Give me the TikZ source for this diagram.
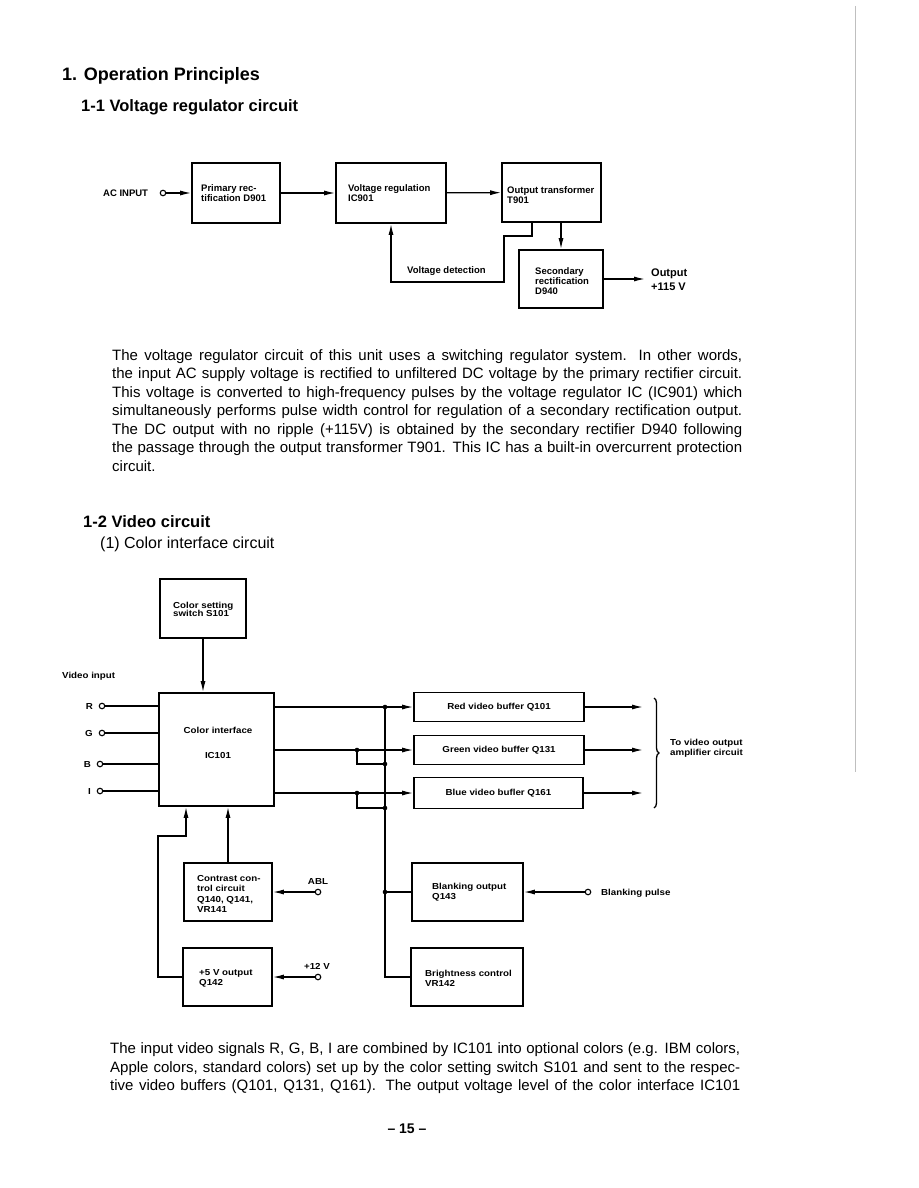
\documentclass[tikz,border=0pt]{standalone}
\usepackage{fontspec}
\setmainfont{Liberation Sans}
\newfontfamily\wideface[FakeStretch=1.12]{Liberation Sans}
\usetikzlibrary{arrows.meta,decorations.pathreplacing}

\newcommand{\fullline}[1]{\makebox[630pt][s]{#1}}

\begin{document}
\begin{tikzpicture}[x=1pt,y=-1pt]
        \tikzset{
            head/.style={font=\fontsize{16.5}{20}\selectfont\bfseries, anchor=base west, inner sep=0pt},
            body/.style={font=\fontsize{15}{18.5}\selectfont, align=left, anchor=north west, inner sep=0pt},
            tdg/.style={font=\fontsize{9.5}{10.3}\selectfont\bfseries},
            vdg/.style={font=\wideface\bfseries\fontsize{8.7}{10.2}\selectfont},
            blk/.style={draw, line width=1.6pt, inner sep=0pt},
            txt/.style={align=left, anchor=west, inner sep=0pt},
            term/.style={circle, draw, fill=white, line width=1.1pt, inner sep=0pt, minimum size=5.5pt},
            conn/.style={line width=1.3pt},
            arr/.style={conn, -{Latex[length=11pt,width=5pt]}}
        }
        \useasboundingbox (0,0) rectangle (918,1188);
        \draw [gray!50, line width=0.6pt] (855,6) -- (855,772);

        \node[head, font=\fontsize{18}{21}\selectfont\bfseries] (title) at (62,81) {1. Operation Principles};
        \node[head] (regtitle) at (81,111.5) {1-1 Voltage regulator circuit};

        %voltage regulator
        \node[tdg, txt] (acl) at (103,193) {AC INPUT};
        \node[term] (acin) at (163,193) {};
        \node[blk, minimum width=88, minimum height=60] (prim) at (236,193) {};
            \node[tdg, txt] (primt) at (201,193) {Primary rec-\\tification D901};
        \node[blk, minimum width=110, minimum height=60] (vreg) at (391,193) {};
            \node[tdg, txt] (vregt) at (348,193) {Voltage regulation\\IC901};
        \node[blk, minimum width=99, minimum height=59] (otr) at (551.5,192.5) {};
            \node[tdg, txt] (otrt) at (507,195) {Output transformer\\T901};
        \node[blk, minimum width=84, minimum height=58] (sec) at (561,279) {};
            \node[tdg, txt] (sect) at (535,281) {Secondary\\rectification\\D940};
        \coordinate (outp) at (645,279);
            \node[txt, font=\fontsize{11}{14.5}\selectfont\bfseries] (outl) at (651,279.5) {Output\\+115 V};

        \draw[arr] (acin) -- (prim);
        \draw[arr] (prim) -- (vreg);
        \draw[arr] (vreg) -- (otr);
        \draw[arr] (otr.south -| sec.north) -- (sec.north);
        \draw[arr] (sec.east) -- (outp);

        \coordinate (vd1) at (532,236);
        \coordinate (vd2) at (504,282);
        \coordinate (vd3) at (391,282);
        \draw[arr] (otr.south -| vd1) -- (vd1) -| (vd2) -- (vd3) -- (vreg.south);
            \node[tdg, txt] (vdl) at (407,271) {Voltage detection};

        \node[body] (regtext) at (112,349) {\fullline{The voltage regulator circuit of this unit uses a switching regulator system. In other words,}\\
            \fullline{the input AC supply voltage is rectified to unfiltered DC voltage by the primary rectifier circuit.}\\
            \fullline{This voltage is converted to high-frequency pulses by the voltage regulator IC (IC901) which}\\
            \fullline{simultaneously performs pulse width control for regulation of a secondary rectification output.}\\
            \fullline{The DC output with no ripple (+115V) is obtained by the secondary rectifier D940 following}\\
            \fullline{the passage through the output transformer T901. This IC has a built-in overcurrent protection}\\
            circuit.};

        \node[head] (vidtitle) at (83,527) {1-2 Video circuit};
        \node[head, font=\fontsize{16}{19}\selectfont] (coltitle) at (100,548) {(1) Color interface circuit};

        %color interface
        \node[blk, minimum width=86, minimum height=59] (csw) at (203,608.5) {};
            \node[vdg, txt] (cswt) at (173,609) {Color setting\\[-2pt]switch S101};
        \node[blk, minimum width=115, minimum height=113] (ic) at (216.5,749.5) {};
            \node[vdg, align=center, inner sep=0pt] (ict) at (218,743) {Color interface\\[15.5pt]IC101};
        \draw[arr] (csw) -- (csw |- ic.north);

        \node[vdg, txt] (vin) at (62,676) {Video input};
        \foreach \n/\y/\cx in {R/706/102, G/733/102, B/764/100, I/791/100}{
            \node[term] (in\n) at (\cx,\y) {};
            \node[vdg, inner sep=0pt, anchor=east] (lab\n) at (\cx-9,\y) {\n};
            \draw[conn] (in\n) -- (in\n -| ic.west);
        }

        \node[blk, vdg, minimum width=170, minimum height=29] (rbuf) at (499,707) {Red video buffer Q101};
        \node[blk, vdg, minimum width=170, minimum height=29] (gbuf) at (499,750) {Green video buffer Q131};
        \node[blk, vdg, minimum width=169, minimum height=31] (bbuf) at (498.5,793) {Blue video bufler Q161};
        \coordinate (tipx) at (643,0);
        \foreach \b in {rbuf, gbuf, bbuf}{
            \draw[arr] (ic.east |- \b.west) -- (\b.west);
            \draw[arr] (\b) -- (\b.east -| tipx);
        }
        \draw [conn, decorate, decoration={brace, amplitude=5pt}] (654,698) -- (654,808);
            \node[vdg, txt] (ampl) at (670,748) {To video output\\amplifier circuit};

        \node[blk, minimum width=88, minimum height=58] (contr) at (228,892) {};
            \node[vdg, txt] (contrt) at (197,894) {Contrast con-\\trol circuit\\Q140, Q141,\\VR141};
        \node[term] (ablin) at (318,892) {};
            \node[vdg, inner sep=0pt] (abll) at (318,881) {ABL};
        \node[blk, minimum width=89, minimum height=58] (pfive) at (227.5,977) {};
            \node[vdg, txt] (pfivet) at (199,978) {+5 V output\\Q142};
        \node[term] (twelve) at (318,977) {};
            \node[vdg, inner sep=0pt] (twelvel) at (317,966) {+12 V};
        \draw[arr] (ablin) -- (contr);
        \draw[arr] (twelve) -- (pfive);
        \draw[arr] (contr) -- (contr |- ic.south);
        \coordinate (pw) at (158,836);
        \coordinate (icin) at (186,836);
        \draw[arr] (pfive.west) -| (pw) -- (icin) -- (icin |- ic.south);

        \node[blk, minimum width=111, minimum height=58] (blank) at (467.5,892) {};
            \node[vdg, txt] (blankt) at (432,892) {Blanking output\\Q143};
        \node[blk, minimum width=112, minimum height=58] (bright) at (467,977) {};
            \node[vdg, txt] (brightt) at (425,978) {Brightness control\\VR142};
        \node[term] (bpin) at (588,892) {};
            \node[vdg, txt] (bpl) at (601,893) {Blanking pulse};
        \draw[arr] (bpin) -- (blank);

        %blanking and brightness bus
        \coordinate (busx) at (385,0);
        \coordinate (tapx) at (357,0);
        \coordinate (jr) at (rbuf.west -| busx);
        \coordinate (jg) at (gbuf.west -| tapx);
        \coordinate (jb) at (bbuf.west -| tapx);
        \coordinate (jg2) at (385,764);
        \coordinate (jb2) at (385,808);
        \coordinate (jk) at (blank.west -| busx);
        \draw[conn] (jr) -- (bright.west -| busx) -- (bright.west);
        \draw[conn] (jg) |- (jg2);
        \draw[conn] (jb) |- (jb2);
        \draw[conn] (jk) -- (blank.west);
        \foreach \j in {jr, jg, jb, jg2, jb2, jk}
            \fill (\j) circle (2.3pt);

        \node[body] (coltext) at (110,1042.5) {\fullline{The input video signals R, G, B, I are combined by IC101 into optional colors (e.g. IBM colors,}\\
            \fullline{Apple colors, standard colors) set up by the color setting switch S101 and sent to the respec-}\\
            \fullline{tive video buffers (Q101, Q131, Q161). The output voltage level of the color interface IC101}};

        \node[font=\fontsize{14}{16}\selectfont\bfseries, anchor=base] (pgno) at (407,1133) {– 15 –};
\end{tikzpicture}
\end{document}
